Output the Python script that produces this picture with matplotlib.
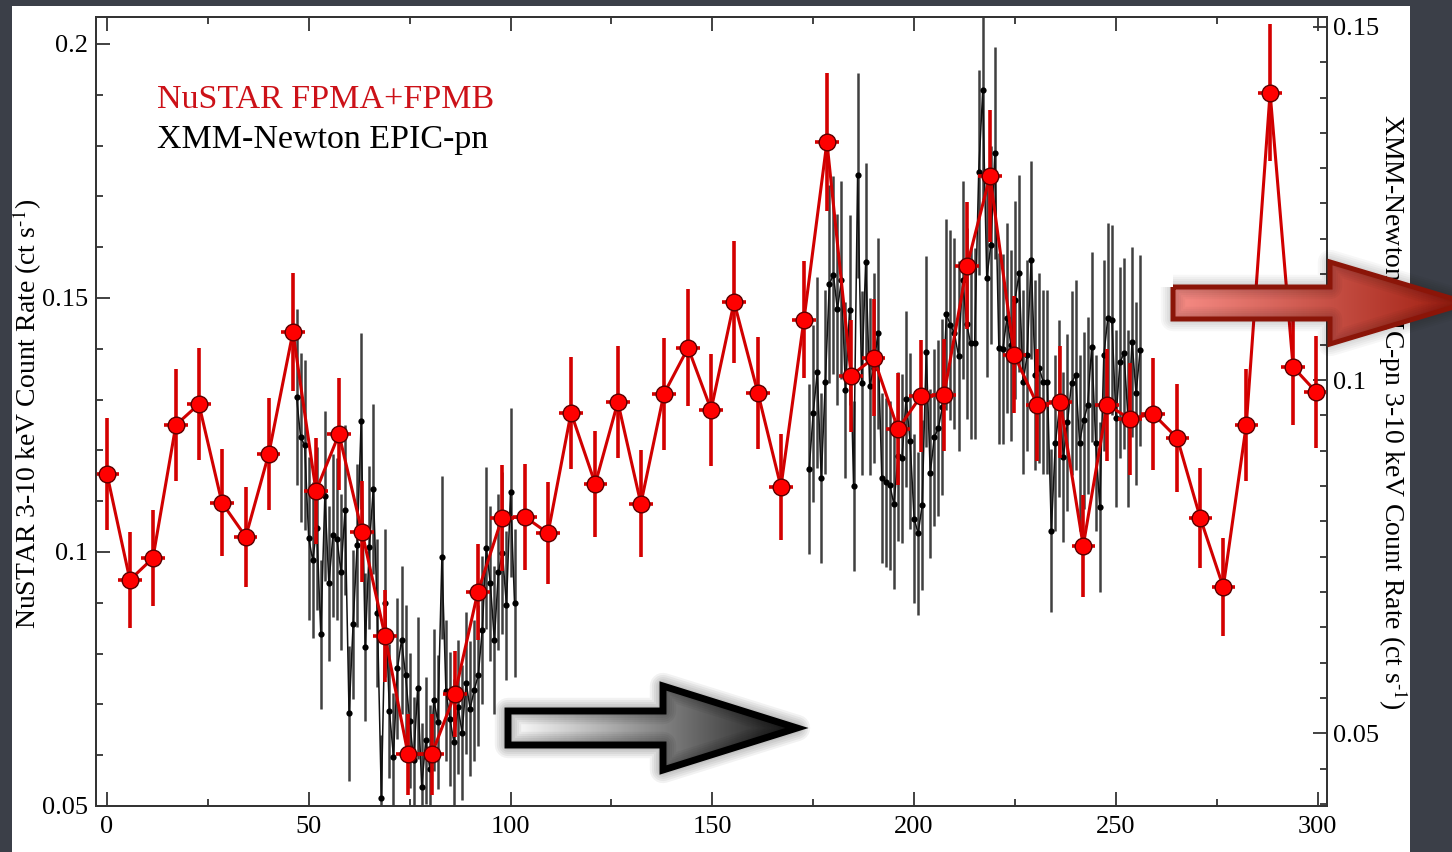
import numpy as np
import matplotlib.pyplot as plt
from matplotlib.patches import Polygon, Rectangle
from matplotlib.colors import LinearSegmentedColormap
from matplotlib.ticker import MultipleLocator, FuncFormatter

plt.rcParams['font.family'] = ['Liberation Serif', 'DejaVu Serif']
plt.rcParams['mathtext.fontset'] = 'stix'

# NuSTAR FPMA+FPMB light curve (left axis)
nu_time = [0.0, 5.7, 11.4, 17.1, 22.8, 28.5, 34.4, 40.1, 46.1, 51.8,
           57.5, 63.2, 68.9, 74.6, 80.5, 86.2, 91.9, 97.9, 103.6, 109.3,
           115.0, 121.0, 126.6, 132.3, 138.0, 144.0, 149.7, 155.4, 161.3, 167.0,
           172.7, 178.4, 184.4, 190.0, 196.0, 201.7, 207.4, 213.1, 218.8, 224.8,
           230.5, 236.2, 241.9, 247.8, 253.5, 259.2, 265.2, 270.9, 276.6, 282.3,
           288.2, 293.9, 299.6]
nu_rate = [0.1154, 0.0945, 0.0988, 0.1250, 0.1291, 0.1097, 0.1030, 0.1193, 0.1433, 0.1120,
           0.1232, 0.1040, 0.0835, 0.0602, 0.0602, 0.0720, 0.0921, 0.1067, 0.1069, 0.1037,
           0.1274, 0.1134, 0.1295, 0.1095, 0.1311, 0.1402, 0.1280, 0.1492, 0.1313, 0.1128,
           0.1457, 0.1807, 0.1347, 0.1382, 0.1242, 0.1307, 0.1309, 0.1563, 0.1740, 0.1388,
           0.1290, 0.1295, 0.1012, 0.1290, 0.1262, 0.1272, 0.1224, 0.1067, 0.0931, 0.1250,
           0.1904, 0.1364, 0.1315]
nu_err = [0.011, 0.0095, 0.0095, 0.011, 0.011, 0.0105, 0.0098, 0.011, 0.0116, 0.0105,
          0.011, 0.010, 0.009, 0.008, 0.008, 0.0085, 0.0095, 0.0105, 0.0105, 0.010,
          0.011, 0.0105, 0.011, 0.0105, 0.011, 0.0115, 0.011, 0.012, 0.011, 0.0105,
          0.0115, 0.0135, 0.011, 0.0115, 0.011, 0.011, 0.011, 0.0125, 0.013, 0.0115,
          0.011, 0.011, 0.010, 0.011, 0.011, 0.011, 0.0106, 0.0099, 0.0097, 0.011,
          0.0135, 0.0115, 0.011]
nu_halfbin = 2.9

# XMM-Newton EPIC-pn light curve (right axis), two segments
xmm_time1 = [47, 48, 49, 50, 51, 52, 53, 54, 55, 56,
             57, 58, 59, 60, 61, 62, 63, 64, 65, 66,
             67, 68, 69, 70, 71, 72, 73, 74, 75, 76,
             77, 78, 79, 80, 81, 82, 83, 84, 85, 86,
             87, 88, 89, 90, 91, 92, 93, 94, 95, 96,
             97, 98, 99, 100, 101]
xmm_rate1 = [0.0976, 0.0919, 0.0908, 0.0776, 0.0745, 0.0790, 0.0640, 0.0836, 0.0712, 0.0780,
             0.0775, 0.0728, 0.0816, 0.0528, 0.0654, 0.0766, 0.0942, 0.0622, 0.0763, 0.0846,
             0.0670, 0.0408, 0.0684, 0.0531, 0.0467, 0.0592, 0.0632, 0.0582, 0.0518, 0.0462,
             0.0564, 0.0424, 0.0490, 0.0450, 0.0547, 0.0516, 0.0749, 0.0560, 0.0520, 0.0487,
             0.0537, 0.0501, 0.0571, 0.0535, 0.0561, 0.0582, 0.0646, 0.0762, 0.0712, 0.0632,
             0.0728, 0.0755, 0.0681, 0.0841, 0.0684]
xmm_err1 = [0.0125, 0.012, 0.012, 0.0115, 0.011, 0.0115, 0.0105, 0.012, 0.011, 0.0115,
            0.0115, 0.011, 0.012, 0.0095, 0.0105, 0.0115, 0.0125, 0.0105, 0.0115, 0.012,
            0.0105, 0.009, 0.0105, 0.0095, 0.009, 0.010, 0.0105, 0.010, 0.0095, 0.009,
            0.010, 0.009, 0.009, 0.009, 0.010, 0.0095, 0.0115, 0.010, 0.0095, 0.009,
            0.0095, 0.0095, 0.010, 0.0095, 0.010, 0.010, 0.0105, 0.0115, 0.011, 0.0105,
            0.011, 0.0115, 0.0105, 0.012, 0.0105]

xmm_time2 = [174, 175, 176, 177, 178, 179, 180, 181, 182, 183,
             184, 185, 186, 187, 188, 189, 190, 191, 192, 193,
             194, 195, 196, 197, 198, 199, 200, 201, 202, 203,
             204, 205, 206, 207, 208, 209, 210, 211, 212, 213,
             214, 215, 216, 217, 218, 219, 220, 221, 222, 223,
             224, 225, 226, 227, 228, 229, 230, 231, 232, 233,
             234, 235, 236, 237, 238, 239, 240, 241, 242, 243,
             244, 245, 246, 247, 248, 249, 250, 251, 252, 253,
             254, 255, 256]
xmm_rate2 = [0.0874, 0.0953, 0.1011, 0.0861, 0.0997, 0.1136, 0.1149, 0.1100, 0.1142, 0.0986,
             0.1099, 0.0850, 0.1290, 0.0996, 0.1167, 0.0991, 0.1017, 0.1066, 0.0861, 0.0855,
             0.0851, 0.0824, 0.0892, 0.0889, 0.0973, 0.0914, 0.0804, 0.0783, 0.0823, 0.1040,
             0.0868, 0.0919, 0.0932, 0.0962, 0.1093, 0.1078, 0.1066, 0.1034, 0.1142, 0.1080,
             0.1052, 0.1052, 0.1294, 0.1410, 0.1144, 0.1191, 0.1321, 0.1045, 0.1044, 0.1088,
             0.1049, 0.1113, 0.1151, 0.0997, 0.1035, 0.1170, 0.1007, 0.1017, 0.0997, 0.0997,
             0.0787, 0.0911, 0.0960, 0.0891, 0.0940, 0.0996, 0.1007, 0.0911, 0.0943, 0.0964,
             0.1047, 0.0911, 0.0820, 0.1035, 0.1088, 0.1085, 0.0946, 0.1025, 0.1038, 0.0946,
             0.1054, 0.0981, 0.1042]
xmm_err2 = [0.012, 0.0125, 0.0135, 0.012, 0.013, 0.014, 0.014, 0.0135, 0.014, 0.0125,
            0.0135, 0.012, 0.0145, 0.013, 0.014, 0.0125, 0.0135, 0.0135, 0.012, 0.012,
            0.012, 0.012, 0.012, 0.012, 0.0125, 0.0125, 0.012, 0.0115, 0.012, 0.0135,
            0.012, 0.0125, 0.0125, 0.0125, 0.0135, 0.0135, 0.0135, 0.0135, 0.014, 0.0135,
            0.0135, 0.0135, 0.0145, 0.0155, 0.014, 0.014, 0.015, 0.0135, 0.0135, 0.0135,
            0.0135, 0.014, 0.014, 0.013, 0.0135, 0.014, 0.0135, 0.0135, 0.013, 0.013,
            0.0115, 0.0125, 0.0125, 0.012, 0.0125, 0.013, 0.0135, 0.0125, 0.0125, 0.0125,
            0.0135, 0.0125, 0.012, 0.0135, 0.0135, 0.0135, 0.0125, 0.0135, 0.0135, 0.0125,
            0.0135, 0.013, 0.0135]

W, H = 1452, 852
fig = plt.figure(figsize=(W / 100, H / 100), dpi=100, facecolor='#3b3f48')
fig.add_artist(Rectangle((12 / W, 0), 1398 / W, 846 / H, transform=fig.transFigure,
                         facecolor='white', edgecolor='none', zorder=-1))

ax = fig.add_axes([96 / W, 46 / H, 1231 / W, 789 / H])
ax2 = ax.twinx()
ax.set_zorder(2)
ax.patch.set_visible(False)

# XMM (black)
for t, r, e in [(xmm_time1, xmm_rate1, xmm_err1), (xmm_time2, xmm_rate2, xmm_err2)]:
    ax2.errorbar(t, r, yerr=e, fmt='none', ecolor='#404040', elinewidth=1.8, capsize=0)
    ax2.plot(t, r, color='#111111', lw=1.1)
    ax2.plot(t, r, 'o', color='black', ms=4.5, mew=0)

# NuSTAR (red)
ax.errorbar(nu_time, nu_rate, yerr=nu_err, xerr=nu_halfbin, fmt='none',
            ecolor='#d40000', elinewidth=2.6, capsize=0)
ax.plot(nu_time, nu_rate, '-', color='#d10000', lw=2.2)
ax.plot(nu_time, nu_rate, 'o', ms=12, mfc='#ff0000', mec='#5a0000', mew=1.0)

ax.set_xlim(-2.7, 302.3)
ax.set_ylim(0.05, 0.2053)
ax2.set_ylim(0.0397, 0.1514)

fmt = FuncFormatter(lambda v, p: f'{v:g}')
ax.xaxis.set_major_locator(MultipleLocator(50))
ax.xaxis.set_minor_locator(MultipleLocator(25))
ax.yaxis.set_major_locator(MultipleLocator(0.05))
ax.yaxis.set_minor_locator(MultipleLocator(0.01))
ax.yaxis.set_major_formatter(fmt)
ax2.yaxis.set_major_locator(MultipleLocator(0.05))
ax2.yaxis.set_minor_locator(MultipleLocator(0.005))
ax2.yaxis.set_major_formatter(fmt)

ax.tick_params(axis='both', which='both', direction='in', top=True, right=False,
               color='#333333', width=1.3, labelsize=19)
ax.tick_params(which='major', length=10)
ax.tick_params(which='minor', length=5)
ax.tick_params(axis='x', pad=7)
ax.tick_params(axis='y', pad=6)
ax2.tick_params(axis='y', which='both', direction='in', color='#333333', width=1.3,
                labelsize=19, pad=4)
ax2.tick_params(which='major', length=10)
ax2.tick_params(which='minor', length=5)
for a in (ax, ax2):
    for s in a.spines.values():
        s.set_color('#333333')
        s.set_linewidth(1.3)

ax.text(0.0496, 0.885, 'NuSTAR FPMA+FPMB', transform=ax.transAxes, color='#cc1118',
        fontsize=24.5, va='baseline')
ax.text(0.0496, 0.834, 'XMM-Newton EPIC-pn', transform=ax.transAxes, color='black',
        fontsize=24.5, va='baseline')

fig.text(27 / W, 1 - 414 / H, r'NuSTAR 3-10 keV Count Rate (ct s$^{\text{-1}}$)', rotation=90,
         ha='center', va='center', fontsize=20)
fig.text(1393 / W, 1 - 412 / H, r'XMM-Newton EPIC-pn 3-10 keV Count Rate (ct s$^{\text{-1}}$)',
         rotation=270, ha='center', va='center', fontsize=20)

# overlay for the slide arrows, in pixel coordinates
ov = fig.add_axes([0, 0, 1, 1], zorder=10)
ov.axis('off')


def block_arrow(x0, ym, bh, hx, hh, tx, c0, c1, edge, lw, shadow):
    pts = [(x0, ym - bh), (hx, ym - bh), (hx, ym - hh), (tx, ym),
           (hx, ym + hh), (hx, ym + bh), (x0, ym + bh)]
    for k in range(5):
        ov.add_patch(Polygon(pts, closed=True, fill=False, edgecolor='black',
                             lw=lw + 3 * k + 2, alpha=shadow, joinstyle='round'))
    clip = Polygon(pts, closed=True, facecolor='none', edgecolor='none')
    ov.add_patch(clip)
    cmap = LinearSegmentedColormap.from_list('g', [c0, c1])
    grad = np.linspace(0, 1, 256).reshape(1, -1)
    im = ov.imshow(grad, cmap=cmap, extent=(x0, tx, ym + hh, ym - hh),
                   aspect='auto', interpolation='bilinear')
    im.set_clip_path(clip)
    ov.add_patch(Polygon(pts, closed=True, fill=False, edgecolor=edge, lw=lw,
                         joinstyle='miter'))


block_arrow(508, 728, 17, 663, 42, 797, '#ffffff', '#151515', 'black', 5, 0.05)
block_arrow(1173, 303, 16, 1330, 41, 1467, '#f78d86', '#9c1a0c', '#8b1508', 3.6, 0.03)
ov.set_xlim(0, W)
ov.set_ylim(H, 0)

fig.savefig('out.png', dpi=100, facecolor=fig.get_facecolor())
